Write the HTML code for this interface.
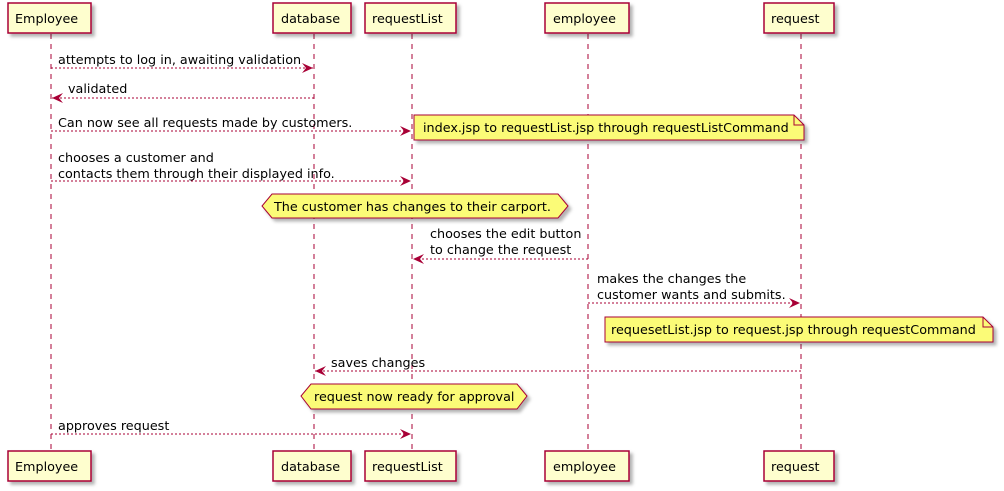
<!DOCTYPE html>
<html><head><meta charset="utf-8"><style>body{margin:0;background:#fff}svg{display:block}text{font-family:"DejaVu Sans","Liberation Sans",sans-serif;font-size:12.75px;fill:#000}</style></head><body>
<svg width="1004" height="491" viewBox="0 0 1004 491" xmlns="http://www.w3.org/2000/svg">
<defs>
<filter id="sh" x="-10%" y="-10%" width="130%" height="150%"><feDropShadow dx="3" dy="3" stdDeviation="1.5" flood-color="#000" flood-opacity="0.3"/></filter>
<marker id="ar" markerWidth="12" markerHeight="10" refX="11" refY="5" orient="auto" markerUnits="userSpaceOnUse"><path d="M0,0 L11,5 L0,10 L4,5 Z" fill="#A80036"/></marker>
</defs>
<g stroke="#A80036" stroke-dasharray="5,5" stroke-width="1">
<line x1="51" y1="34" x2="51" y2="451"/><line x1="314" y1="34" x2="314" y2="451"/><line x1="412" y1="34" x2="412" y2="451"/><line x1="588" y1="34" x2="588" y2="451"/><line x1="801" y1="34" x2="801" y2="451"/>
</g>
<g fill="#FEFECE" stroke="#A80036" stroke-width="1.5" filter="url(#sh)">
<rect x="8" y="3" width="83" height="30"/><rect x="273" y="3" width="78" height="30"/><rect x="365" y="3" width="91" height="30"/><rect x="545" y="3" width="84" height="30"/><rect x="764" y="3" width="70" height="30"/>
<rect x="8" y="451" width="83" height="30"/><rect x="273" y="451" width="78" height="30"/><rect x="365" y="451" width="91" height="30"/><rect x="545" y="451" width="84" height="30"/><rect x="764" y="451" width="70" height="30"/>
</g>
<g style="font-size:14px">
<text x="15" y="23">Employee</text><text x="281" y="23">database</text><text x="372" y="23">requestList</text><text x="553" y="23">employee</text><text x="771" y="23">request</text>
<text x="15" y="471">Employee</text><text x="281" y="471">database</text><text x="372" y="471">requestList</text><text x="553" y="471">employee</text><text x="771" y="471">request</text>
</g>
<g stroke="#A80036" stroke-dasharray="2,2" fill="none" marker-end="url(#ar)">
<line x1="51" y1="68" x2="313" y2="68"/><line x1="314" y1="98" x2="52" y2="98"/><line x1="51" y1="131" x2="411" y2="131"/><line x1="51" y1="181" x2="411" y2="181"/><line x1="588" y1="259" x2="413" y2="259"/><line x1="588" y1="303" x2="800" y2="303"/><line x1="801" y1="371" x2="315" y2="371"/><line x1="51" y1="434" x2="411" y2="434"/>
</g>
<text x="58" y="64">attempts to log in, awaiting validation</text>
<text x="68" y="93">validated</text>
<text x="58" y="127">Can now see all requests made by customers.</text>
<text x="58" y="162">chooses a customer and</text><text x="58" y="178">contacts them through their displayed info.</text>
<text x="430" y="238">chooses the edit button</text><text x="430" y="254">to change the request</text>
<text x="597" y="283">makes the changes the</text><text x="597" y="299">customer wants and submits.</text>
<text x="331" y="367">saves changes</text>
<text x="58" y="430">approves request</text>
<g fill="#FBFB77" stroke="#A80036" stroke-width="1" filter="url(#sh)">
<path d="M414,115 H794 L804,125 V140 H414 Z"/><path d="M605,317 H983 L993,327 V342 H605 Z"/>
<path d="M272,194 H558 L568,206 L558,218 H272 L262,206 Z"/><path d="M311,384 H517 L527,396 L517,409 H311 L301,396 Z"/>
</g>
<g fill="none" stroke="#A80036"><path d="M794,115 V125 H804"/><path d="M983,317 V327 H993"/></g>
<text x="423" y="132">index.jsp to requestList.jsp through requestListCommand</text>
<text x="611" y="334">requesetList.jsp to request.jsp through requestCommand</text>
<text x="274" y="211">The customer has changes to their carport.</text>
<text x="314" y="401">request now ready for approval</text>
</svg>
</body></html>
